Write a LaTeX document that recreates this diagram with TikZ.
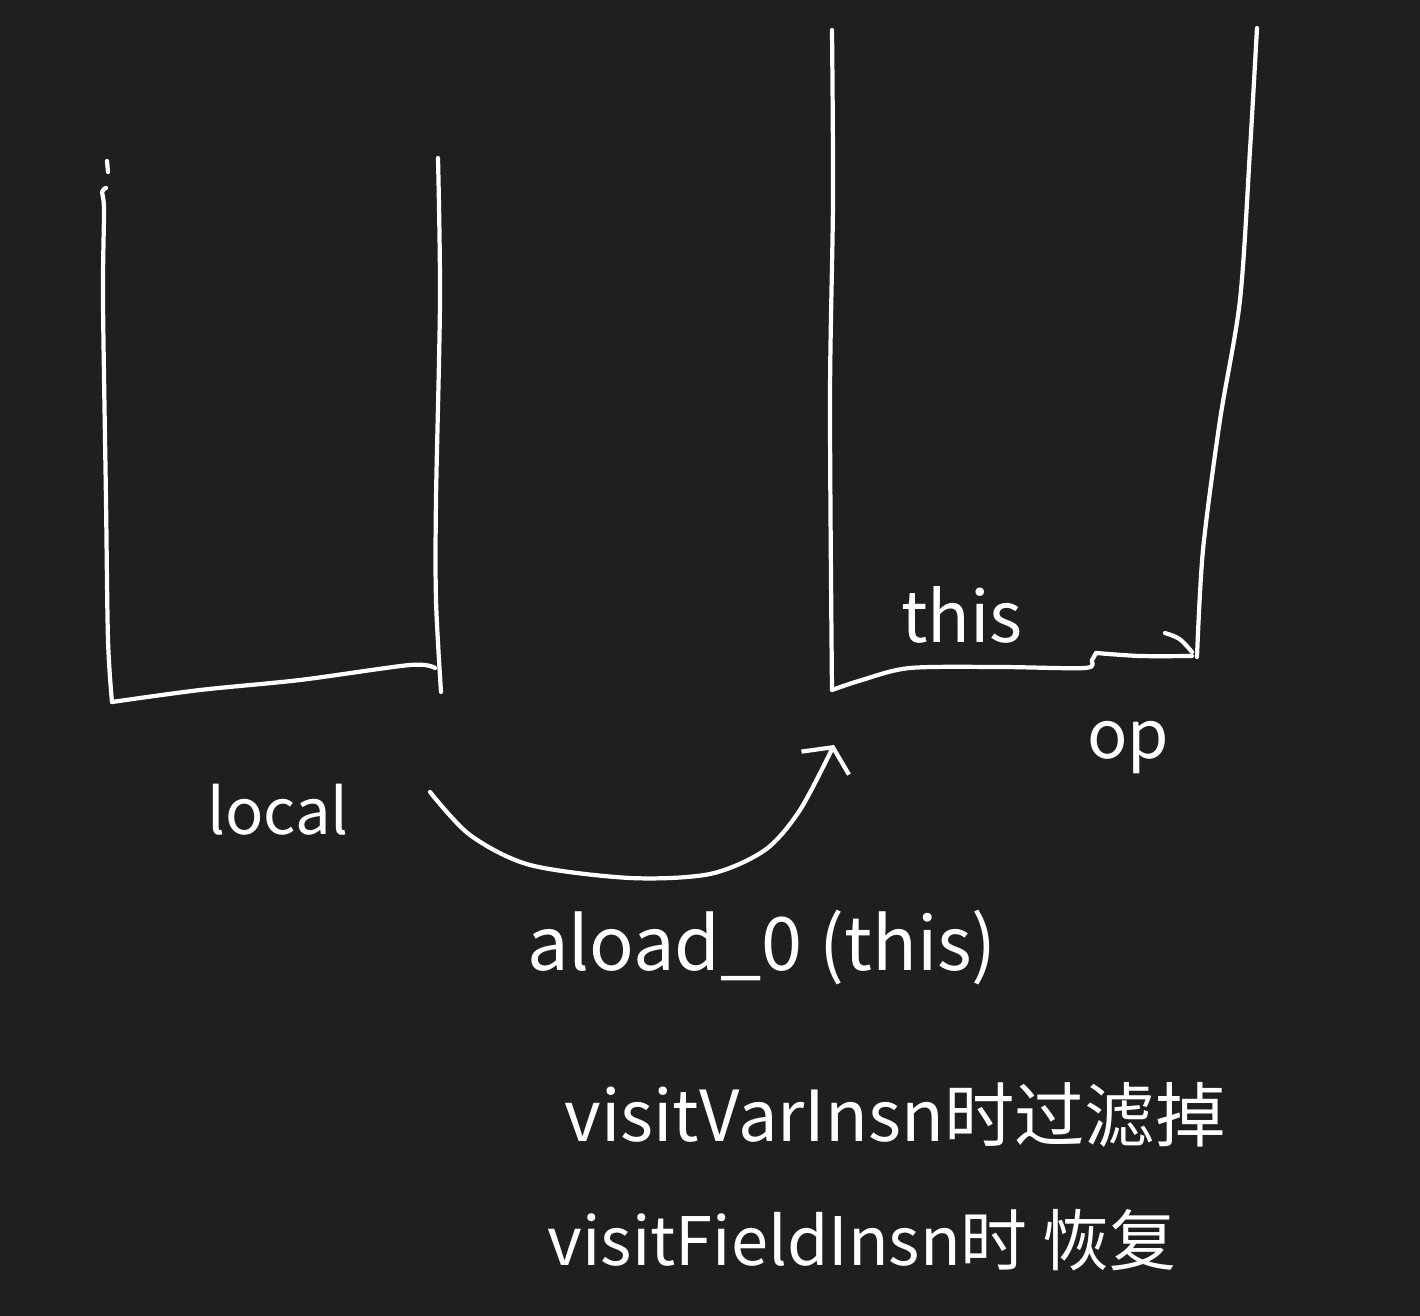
\documentclass[tikz,border=0pt]{standalone}
\usepackage{fontspec}
\newfontfamily\cjk{Noto Sans CJK SC}
\usetikzlibrary{arrows.meta}
\definecolor{board}{HTML}{1F1F1F}
\tikzset{
	pen/.style={draw=white, line width=1.2pt, line cap=round, line join=round},
	ink/.style={text=white, font=\cjk\fontsize{20}{24}\selectfont, inner sep=0pt},
}
\begin{document}
\begin{tikzpicture}[x=0.01cm, y=-0.01cm]
	\fill[board] (0,0) rectangle (1420,1316);
	\useasboundingbox (0,0) rectangle (1420,1316);

	% local variable table
	\draw[pen] (107,161) -- (108,172);
	\draw[pen] plot[smooth] coordinates {(106,188) (102,192) (104,210) (103,300) (106,500) (108,640) (112,702)};
	\draw[pen] plot[smooth] coordinates {(112,702) (200,690) (300,680) (410,665) (435,668)};
	\draw[pen] plot[smooth] coordinates {(438,158) (440,300) (436,500) (436,600) (441,692)};

	% operand stack
	\draw[pen] plot[smooth] coordinates {(832,30) (833,200) (830,400) (832,690)};
	\draw[pen] plot[smooth] coordinates {(832,690) (862,680) (910,668) (1000,667) (1085,668) (1092,660) (1096,653)};
	\draw[pen] plot[smooth] coordinates {(1096,653) (1140,656) (1192,656)};
	\draw[pen] (1165,633) .. controls (1180,638) .. (1192,652);
	\draw[pen] plot[smooth] coordinates {(1257,28) (1250,150) (1240,300) (1220,420) (1203,550) (1197,657)};

	\node (local) [ink, font=\cjk\fontsize{18}{22}\selectfont] at (278,810) {local};
	\node (this) [ink] at (962,615) {this};
	\node (op) [ink, font=\cjk\fontsize{19}{23}\selectfont] at (1128,748) {op};

	\coordinate (from) at (430,792);
	\coordinate (to) at (834,745);
	\draw[pen, -{Straight Barb[length=5pt, width=15pt]}] plot[smooth] coordinates {(from) (470,835) (530,865) (630,878) (710,874) (765,850) (800,810) (to)};

	\node (aload) [ink, font=\cjk\fontsize{21}{25}\selectfont] at (762,948) {aload\_0 (this)};
	\node (filter) [ink] at (895,1115) {visitVarInsn时过滤掉};
	\node (restore) [ink, font=\cjk\fontsize{19}{23}\selectfont] at (862,1240) {visitFieldInsn时 恢复};
\end{tikzpicture}
\end{document}
